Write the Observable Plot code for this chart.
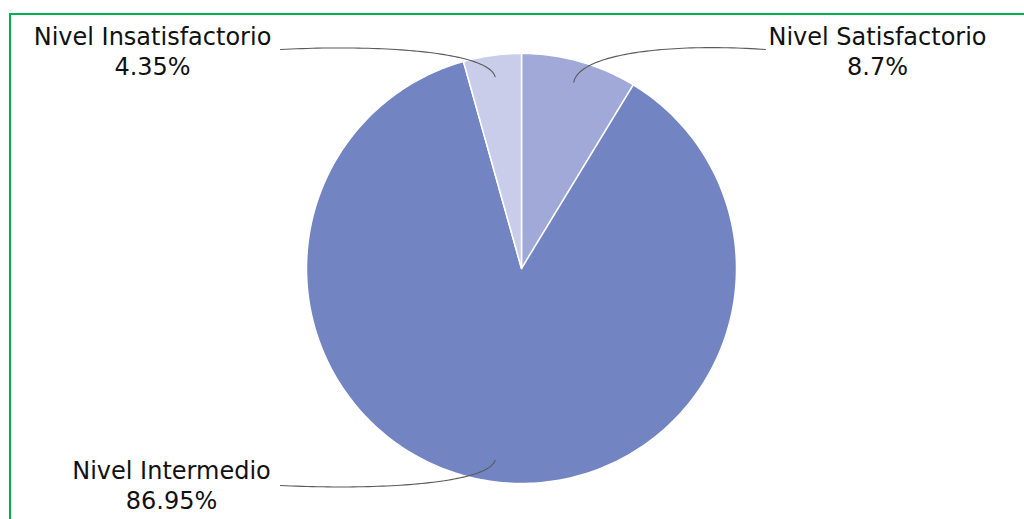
<!DOCTYPE html>
<html><head><meta charset="utf-8">
<script src="https://cdn.jsdelivr.net/npm/d3@7"></script>
<script src="https://cdn.jsdelivr.net/npm/@observablehq/plot@0.6"></script>
<style>
html,body{margin:0;padding:0;background:#fff;overflow:hidden}
#wrap{position:relative;width:1024px;height:519px;overflow:hidden}
#frame{position:absolute;left:9px;top:13px;width:1040px;height:540px;border:2px solid #00b050;box-sizing:border-box;pointer-events:none}
</style></head><body>
<div id="wrap"><div id="chart"></div><div id="frame"></div></div>
<script>
// ---- data ----
const categories = ["Nivel Satisfactorio", "Nivel Intermedio", "Nivel Insatisfactorio"];
const values = [8.7, 86.95, 4.35];
const sliceColors = ["#a0a9d7", "#7384c2", "#c9cdea"];

// ---- layout ----
const W = 1024, H = 519, CX = 521, CY = 268, R = 215;
const labelLayout = {
  "Nivel Satisfactorio":   {x: 877, y: 74,  sx: 765, sy: 49},
  "Nivel Intermedio":      {x: 171, y: 508, sx: 280, sy: 485},
  "Nivel Insatisfactorio": {x: 152, y: 74,  sx: 280, sy: 49}
};

const arcs = d3.pie().sort(null).value(d => d)(values);

const slicePts = [];
arcs.forEach((a, i) => {
  const cat = categories[i];
  slicePts.push({cat, x: CX, y: CY});
  const n = Math.max(2, Math.ceil((a.endAngle - a.startAngle) / (2 * Math.PI) * 360));
  for (let k = 0; k <= n; k++) {
    const t = a.startAngle + (a.endAngle - a.startAngle) * k / n;
    slicePts.push({cat, x: CX + R * Math.sin(t), y: CY - R * Math.cos(t)});
  }
});

const leaderPts = [];
const labels = [];
arcs.forEach((a, i) => {
  const cat = categories[i];
  const L = labelLayout[cat];
  const mid = (a.startAngle + a.endAngle) / 2;
  const ax = CX + 0.9 * R * Math.sin(mid), ay = CY - 0.9 * R * Math.cos(mid);
  const dx = ax - L.sx, dy = ay - L.sy;
  const p0 = [L.sx, L.sy], p1 = [L.sx + 0.5 * dx, L.sy - 0.2 * dy],
        p2 = [ax - 0.03 * dx, L.sy + 0.12 * dy], p3 = [ax, ay];
  for (let k = 0; k <= 60; k++) {
    const t = k / 60, u = 1 - t;
    const b = [u*u*u, 3*u*u*t, 3*u*t*t, t*t*t];
    leaderPts.push({cat,
      x: b[0]*p0[0] + b[1]*p1[0] + b[2]*p2[0] + b[3]*p3[0],
      y: b[0]*p0[1] + b[1]*p1[1] + b[2]*p2[1] + b[3]*p3[1]});
  }
  labels.push({cat, x: L.x, y: L.y, text: `${cat}\n${values[i]}%`});
});

const chart = Plot.plot({
  width: W, height: H, margin: 0,
  x: {domain: [0, W], range: [0, W], axis: null},
  y: {domain: [0, H], range: [0, H], axis: null},
  color: {domain: categories, range: sliceColors},
  style: {fontFamily: "'DejaVu Sans', sans-serif", background: "white"},
  marks: [
    Plot.line(slicePts, {x: "x", y: "y", z: "cat", fill: "cat", stroke: "white", strokeWidth: 1.5, curve: "linear-closed"}),
    Plot.line(leaderPts, {x: "x", y: "y", z: "cat", stroke: "#5a5a5a", strokeWidth: 1.1}),
    Plot.text(labels, {x: "x", y: "y", text: "text", textAnchor: "middle", lineAnchor: "bottom", lineHeight: 1.21, fontSize: 24, fill: "#111"})
  ]
});
document.getElementById("chart").appendChild(chart);
</script>
</body></html>
